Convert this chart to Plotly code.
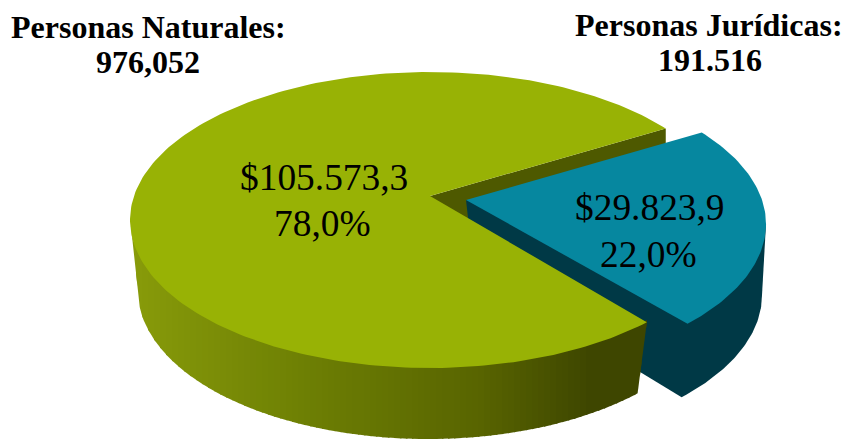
import math
import plotly.graph_objects as go

# --- data ---
categories = ["Personas Naturales", "Personas Jurídicas"]
counts = ["976,052", "191.516"]
amounts = [105573.3, 29823.9]
amount_labels = ["$105.573,3", "$29.823,9"]
share_labels = ["78,0%", "22,0%"]

# --- styling / view of the tilted pie ---
W, H = 845, 440
GREEN_TOP = "#98B205"
GREEN_INNER = "#4E5900"
BLUE_TOP = "#06879F"
BLUE_SIDE = "#003946"
SIDE_STOPS = [(130, (136, 155, 10)), (300, (110, 128, 4)), (480, (88, 100, 0)),
              (590, (62, 70, 0)), (645, (62, 70, 0))]
START_DEG = 38.2          # where the second slice begins on the rim
TOP = dict(cx=430, cy=220, rx=300, ry=148)
BOT = dict(cx=428, cy=291, rx=290, ry=148)
APEX_TOP = (430, 196)
APEX_BOT = (430, 267)
EXPLODE_TOP = (36, 4)
EXPLODE_BOT = (44, 4)
CUT_WARP = 1.033          # perspective widens the near slice a little (cut in the large slice)
SLICE_WARP = 1.0165       # same, for the pulled-out slice itself


def rim(e, deg, off=(0, 0)):
    a = math.radians(deg)
    return e["cx"] + off[0] + e["rx"] * math.cos(a), e["cy"] + off[1] - e["ry"] * math.sin(a)


def poly(pts, color):
    xs = [p[0] for p in pts] + [pts[0][0]]
    ys = [p[1] for p in pts] + [pts[0][1]]
    return go.Scatter(x=xs, y=ys, mode="lines", fill="toself", fillcolor=color,
                      line=dict(color=color, width=0), hoverinfo="skip", showlegend=False)


def side_color(x):
    s = SIDE_STOPS
    if x <= s[0][0]:
        c = s[0][1]
    elif x >= s[-1][0]:
        c = s[-1][1]
    else:
        for (x0, c0), (x1, c1) in zip(s, s[1:]):
            if x0 <= x <= x1:
                t = (x - x0) / (x1 - x0)
                c = tuple(c0[i] + t * (c1[i] - c0[i]) for i in range(3))
                break
    return "rgb(%d,%d,%d)" % tuple(round(v) for v in c)


def arc(e, a0, a1, off=(0, 0), n=90):
    return [rim(e, a0 + (a1 - a0) * i / n, off) for i in range(n + 1)]


def lower_y(e, x):
    """y of the near half of an ellipse at column x (x clamped onto the ellipse)."""
    u = max(-1.0, min(1.0, (x - e["cx"]) / e["rx"]))
    return e["cy"] + e["ry"] * math.sqrt(1 - u * u)


total = sum(amounts)
share_deg = amounts[1] / total * 360
cut_a1 = START_DEG - share_deg * CUT_WARP
blue_a0, blue_a1 = START_DEG, START_DEG - share_deg * SLICE_WARP

fig = go.Figure()

# inner wall of the notch left by the pulled-out slice
rim_t = rim(TOP, START_DEG)
fig.add_trace(poly([APEX_TOP, rim_t, (rim_t[0], rim_t[1] + 71), APEX_BOT], GREEN_INNER))

# pulled-out slice: outer wall and cut wall as one shape, its top face covers the upper part
ax_t = (APEX_TOP[0] + EXPLODE_TOP[0], APEX_TOP[1] + EXPLODE_TOP[1])
ax_b = (APEX_BOT[0] + EXPLODE_BOT[0], APEX_BOT[1] + EXPLODE_BOT[1])
fig.add_trace(poly([ax_t, rim(TOP, 0, EXPLODE_TOP)] + arc(BOT, 0, cut_a1, EXPLODE_BOT, n=60) + [ax_b], BLUE_SIDE))

# large slice: front wall in vertical shaded bands, each overlapping the next
corner_t = rim(TOP, cut_a1)
corner_b = rim(BOT, cut_a1)
left_t = rim(TOP, 180)
left_b = rim(BOT, 180)
STEP = 6


def wall_bottom(x):
    if x < left_b[0]:
        return left_t[1] + (left_b[1] - left_t[1]) * (x - left_t[0]) / (left_b[0] - left_t[0])
    if x > corner_b[0]:
        return corner_b[1] + (corner_t[1] - corner_b[1]) * (x - corner_b[0]) / (corner_t[0] - corner_b[0])
    return lower_y(BOT, x)


x = left_t[0]
while x < corner_t[0]:
    x1 = min(x + STEP + 1.5, corner_t[0])
    cols = [x + (x1 - x) * i / 4 for i in range(5)]
    if x <= left_b[0] <= x1:
        cols = sorted(cols + [left_b[0]])
    if x <= corner_b[0] <= x1:
        cols = sorted(cols + [corner_b[0]])
    upper = [(c, lower_y(TOP, c) - 2) for c in cols]
    lower = [(c, wall_bottom(c)) for c in reversed(cols)]
    fig.add_trace(poly(upper + lower, side_color(x + STEP / 2)))
    x += STEP

# top faces
green_pts = [APEX_TOP] + arc(TOP, START_DEG, cut_a1 + 360, n=240)
fig.add_trace(poly(green_pts, GREEN_TOP))
blue_pts = [ax_t] + arc(TOP, blue_a0, blue_a1, EXPLODE_TOP, n=80)
fig.add_trace(poly(blue_pts, BLUE_TOP))

SERIF = "Liberation Serif"
texts = [
    (148, 27, categories[0] + ":", 32, True),
    (148, 62, counts[0], 32, True),
    (709, 25, categories[1] + ":", 32, True),
    (710, 60, counts[1], 32, True),
    (324, 177, amount_labels[0], 37.4, False),
    (322, 223, share_labels[0], 37.4, False),
    (650, 207, amount_labels[1], 37.4, False),
    (648, 254, share_labels[1], 37.4, False),
]
for x, y, t, size, bold in texts:
    fig.add_annotation(x=x, y=y, text="<b>%s</b>" % t if bold else t, showarrow=False,
                       xanchor="center", yanchor="middle",
                       font=dict(family=SERIF, size=size, color="#000000"))

fig.update_layout(width=W, height=H, margin=dict(l=0, r=0, t=0, b=0),
                  paper_bgcolor="white", plot_bgcolor="white", showlegend=False,
                  xaxis=dict(range=[0, W], visible=False, fixedrange=True),
                  yaxis=dict(range=[H, 0], visible=False, fixedrange=True))
fig.write_html("out.html", post_script="document.body.style.margin='0';document.documentElement.style.overflow='hidden';",
               config={"displayModeBar": False})
